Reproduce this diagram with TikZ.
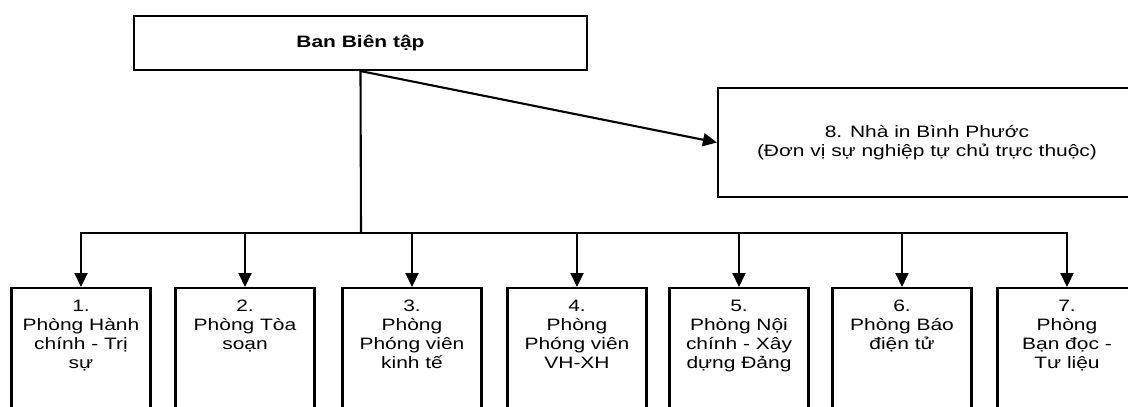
\documentclass[tikz,border=0pt]{standalone}
\usepackage{fontspec}
\setmainfont{Liberation Sans}[FakeStretch=1.27]
\usetikzlibrary{arrows.meta}
\begin{document}
\begin{tikzpicture}[x=1pt,y=-1pt,
  box/.style={draw,line width=2.1pt,inner sep=0pt},
  dept/.style={box,anchor=north,minimum width=139pt,minimum height=140pt},
  lbl/.style={anchor=north,align=center,yshift=-12.5pt,inner sep=0pt,font=\fontsize{16.5}{19}\selectfont},
  conn/.style={line width=2.1pt},
  arr/.style={conn,-{Triangle[length=14pt,width=13pt]}}]
\useasboundingbox (0,0) rectangle (1128,407);
\clip (0,0) rectangle (1128,407);
\fill[white] (0,0) rectangle (1128,407);
\node[box,minimum width=453pt,minimum height=54pt,font=\fontsize{16.5}{19}\selectfont\bfseries] (top) at (360.5,43) {Ban Biên tập};
\node[box,minimum width=418pt,minimum height=109pt,align=center,font=\fontsize{16.5}{19}\selectfont] (n8) at (927,142.5) {8. Nhà in Bình Phước\\(Đơn vị sự nghiệp tự chủ trực thuộc)};
\node[dept,label={[lbl]north:1.\\Phòng Hành\\chính - Trị\\sự}] (b1) at (81,287) {};
\node[dept,label={[lbl]north:2.\\Phòng Tòa\\soạn}] (b2) at (245,287) {};
\node[dept,label={[lbl]north:3.\\Phòng\\Phóng viên\\kinh tế}] (b3) at (412,287) {};
\node[dept,label={[lbl]north:4.\\Phòng\\Phóng viên\\VH-XH}] (b4) at (577,287) {};
\node[dept,label={[lbl]north:5.\\Phòng Nội\\chính - Xây\\dựng Đảng}] (b5) at (739,287) {};
\node[dept,label={[lbl]north:6.\\Phòng Báo\\điện tử}] (b6) at (902,287) {};
\node[dept,label={[lbl]north:7.\\Phòng\\Bạn đọc -\\Tư liệu}] (b7) at (1067,287) {};
\coordinate (bus) at (361,233);
\draw[arr] (top.south) -- (n8.west);
\draw[conn] (top.south) -- (bus);
\draw[conn,line cap=rect] (b1.north |- bus) -- (b7.north |- bus);
\foreach \b in {b1,b2,b3,b4,b5,b6,b7}
  \draw[arr] (\b.north |- bus) -- (\b.north);
\end{tikzpicture}
\end{document}
